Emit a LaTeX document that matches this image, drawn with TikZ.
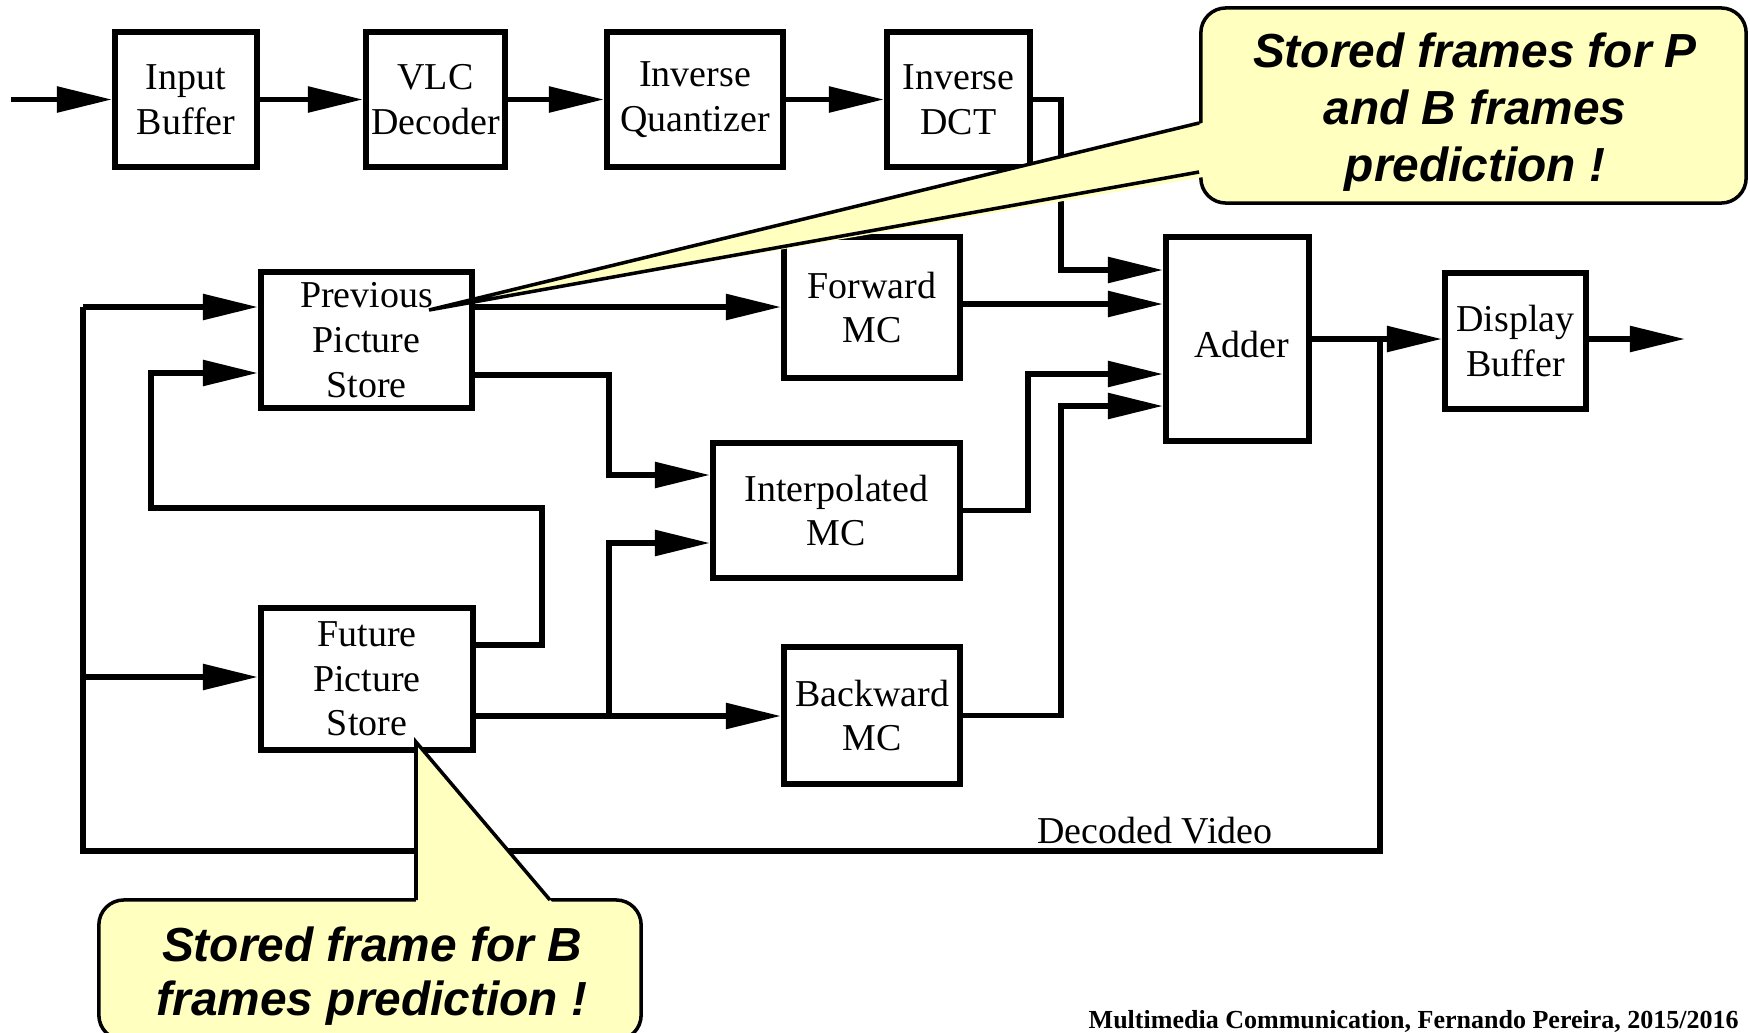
\documentclass[tikz,border=0pt]{standalone}
\usepackage{fontspec}
\setmainfont{Liberation Serif}
\newfontfamily\calloutfont{Liberation Sans}
\usetikzlibrary{arrows.meta,calc}
\definecolor{cfill}{RGB}{255,255,192}
\begin{document}
\begin{tikzpicture}[x=0.01cm,y=-0.01cm,
  blk/.style={draw, line width=1.7pt, align=center, inner sep=0pt,
    font=\fontsize{10.8}{12.7}\selectfont},
  conn/.style={line width=1.6pt},
  arr/.style={conn, -{Triangle[length=0.55cm,width=0.25cm]}},
  callout/.style={draw, line width=1pt, fill=cfill, rounded corners=0.25cm,
    inner sep=0pt},
  ctext/.style={align=center, inner sep=0pt, font=\calloutfont\bfseries\itshape\fontsize{13.6}{16.3}\selectfont},
  cline/.style={line width=1pt, line join=miter}]
\useasboundingbox (0,0) rectangle (1750,1033);

% blocks
\node[blk, minimum width=1.42cm, minimum height=1.35cm] (ib) at (186,99.5) {Input\\Buffer};
\node[blk, minimum width=1.39cm, minimum height=1.35cm] (vlc) at (435.5,99.5) {VLC\\Decoder};
\node[blk, minimum width=1.76cm, minimum height=1.35cm] (iq) at (695,99.5) {Inverse\\Quantizer};
\node[blk, minimum width=1.43cm, minimum height=1.35cm] (idct) at (958.5,99.5) {Inverse\\DCT};
\node[blk, minimum width=2.11cm, minimum height=1.36cm] (pps) at (366.5,340) {Previous\\Picture\\Store};
\node[blk, minimum width=2.12cm, minimum height=1.42cm] (fps) at (367,679) {Future\\Picture\\Store};
\node[blk, minimum width=1.76cm, minimum height=1.41cm] (fmc) at (872,307.5) {Forward\\MC};
\node[blk, minimum width=2.47cm, minimum height=1.35cm] (imc) at (836.5,510.5) {Interpolated\\MC};
\node[blk, minimum width=1.76cm, minimum height=1.37cm] (bmc) at (872,715.5) {Backward\\MC};
\node[blk, minimum width=1.43cm, minimum height=2.04cm] (adder) at (1237.5,339) {};
\node[font=\fontsize{10.8}{12.7}\selectfont] (addert) at (1242,345) {Adder};
\node[blk, minimum width=1.41cm, minimum height=1.36cm] (db) at (1515.5,341) {Display\\Buffer};

% free ends and inputs of the adder
\coordinate (in0) at (11,99.5);
\coordinate (out) at (1685,339);
\coordinate (a1) at (adder.west |- 0,270);
\coordinate (a2) at (adder.west |- 0,304);
\coordinate (a3) at (adder.west |- 0,374);
\coordinate (a4) at (adder.west |- 0,406);
\coordinate (dj) at (1380,339);

% top row
\draw[arr] (in0) -- (ib.west);
\draw[arr] (ib.east) -- (vlc.west);
\draw[arr] (vlc.east) -- (iq.west);
\draw[arr] (iq.east) -- (idct.west);

% into the adder
\draw[arr] (idct.east) -| (1061,270) -- (a1);
\draw[arr] (fmc.east |- a2) -- (a2);
\draw[arr] (imc.east) -| (1028,374) -- (a3);
\draw[arr] (bmc.east) -| (1061,406) -- (a4);

% output
\draw[arr] (adder.east |- dj) -- (db.west |- dj);
\draw[arr] (db.east |- dj) -- (out);

% decoded video feedback
\draw[conn] (dj) -- (1380,851) -- (83,851) -- (83,307);
\draw[arr] (83,307) -- (pps.west |- 0,307);
\draw[arr] (83,677) -- (fps.west |- 0,677);
\node[font=\fontsize{10.8}{12.7}\selectfont] (dv) at (1155,831) {Decoded Video};

% future -> previous loop
\draw[arr] (fps.east |- 0,645) -| (542,508) -| (151,373) -- (pps.west |- 0,373);

% stores to MC blocks
\draw[arr] (pps.east |- 0,307) -- (fmc.west |- 0,307);
\draw[arr] (pps.east |- 0,375) -| (609,475) -- (imc.west |- 0,475);
\draw[arr] (fps.east |- 0,716) -- (bmc.west |- 0,716);
\draw[arr] (609,716) |- (imc.west |- 0,543);

% callout 1
\node[callout, minimum width=5.45cm, minimum height=1.95cm] (c1) at (1473.5,105.5) {};
\node[ctext] (c1t) at (1475,112) {Stored frames for P\\and B frames\\prediction !};
\fill[cfill] (429,310) -- (1215,120) -- (1215,175) -- cycle;
\draw[cline] (c1.west |- 0,123) -- (429,310) -- (c1.west |- 0,172);

% callout 2
\node[callout, minimum width=5.42cm, minimum height=1.40cm] (c2) at (370,970) {};
\node[ctext, font=\calloutfont\bfseries\itshape\fontsize{13.6}{15.3}\selectfont] (c2t) at (372,976)
  {Stored frame for B\\frames prediction !};
\fill[cfill] (416,742) -- (416,915) -- (563,915) -- cycle;
\draw[cline] (416,900) -- (416,742) -- (550,900);

% footer
\node[anchor=west, inner sep=0pt, font=\fontsize{7.4}{9}\selectfont\bfseries] (foot) at (1088,1021)
  {Multimedia Communication, Fernando Pereira, 2015/2016};
\end{tikzpicture}
\end{document}
